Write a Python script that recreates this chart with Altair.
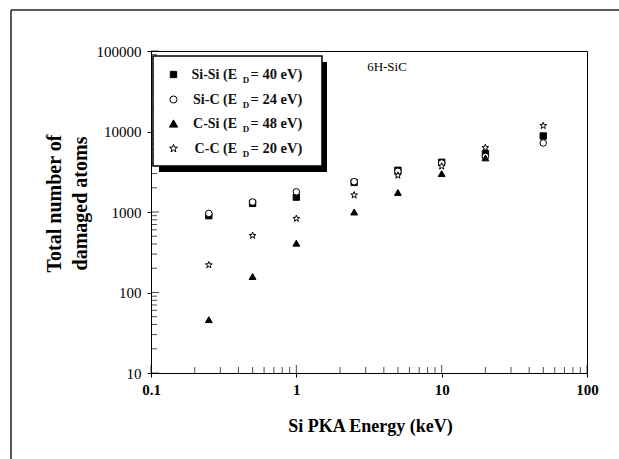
import altair as alt
import pandas as pd

# ---- data ----
energy = [0.25, 0.5, 1, 2.5, 5, 10, 20, 50]
si_si = [900, 1280, 1530, 2330, 3300, 4150, 5300, 8800]
si_c = [960, 1330, 1780, 2380, 3200, 4050, 4900, 7200]
c_si_energy = [0.25, 0.5, 1, 2.5, 5, 10, 20]
c_si = [46, 158, 410, 1000, 1750, 3000, 4700]
c_c = [220, 510, 830, 1620, 2850, 3700, 6300, 11800]

series = ["Si-Si", "Si-C", "C-Si", "C-C"]
ed_values = ["40", "24", "48", "20"]
STAR = ("M0,-1L0.235,-0.324L0.951,-0.309L0.380,0.124L0.588,0.809L0,0.4"
        "L-0.588,0.809L-0.380,0.124L-0.951,-0.309L-0.235,-0.324Z")
shapes = ["square", "circle", "triangle-up", STAR]
fills = ["black", "white", "black", "white"]
sizes = [40, 50, 70, 70]

x_ticks = [0.1, 1, 10, 100]
y_ticks = [10, 100, 1000, 10000, 100000]
x_minor = [m * d for d in [0.1, 1, 10] for m in range(2, 10)]
y_minor = [m * d for d in [10, 100, 1000, 10000] for m in range(2, 10)]

rows = []
for name, xs, ys in [("Si-Si", energy, si_si), ("Si-C", energy, si_c),
                     ("C-Si", c_si_energy, c_si), ("C-C", energy, c_c)]:
    for xv, yv in zip(xs, ys):
        rows.append({"energy": xv, "count": yv, "series": name})
df = pd.DataFrame(rows)

W, H = 436, 322
FONT = "Liberation Serif"

xscale = alt.Scale(type="log", domain=[0.1, 100])
yscale = alt.Scale(type="log", domain=[10, 100000])

points = alt.Chart(df).mark_point(filled=True, stroke="black", strokeWidth=1, opacity=1).encode(
    x=alt.X("energy:Q", scale=xscale,
            axis=alt.Axis(values=x_ticks, format="~g", title="Si PKA Energy (keV)",
                          labelFontWeight="bold", labelFontSize=15, labelFont=FONT,
                          labelPadding=5, tickSize=4, labelFlush=False,
                          titleFont=FONT, titleFontSize=18, titleFontWeight="bold",
                          titleX=219, titleY=53, titleBaseline="middle", titleAnchor="middle")),
    y=alt.Y("count:Q", scale=yscale,
            axis=alt.Axis(values=y_ticks, format="d", title=["Total number of", "damaged atoms"],
                          labelFontSize=15, labelFont=FONT, labelPadding=6, tickSize=4,
                          labelFlush=False,
                          titleFont=FONT, titleFontSize=20, titleFontWeight="bold",
                          titleX=-97, titleY=152, titleAngle=-90, titleBaseline="middle",
                          titleAlign="center", titleLineHeight=26)),
    shape=alt.Shape("series:N", scale=alt.Scale(domain=series, range=shapes), legend=None),
    fill=alt.Fill("series:N", scale=alt.Scale(domain=series, range=fills), legend=None),
    size=alt.Size("series:N", scale=alt.Scale(domain=series, range=sizes), legend=None),
    order=alt.Order("idx:Q"),
).transform_calculate(
    idx="indexof(['Si-Si','Si-C','C-Si','C-C'], datum.series)"
)

# inward ticks
xt_major = alt.Chart(pd.DataFrame({"t": x_ticks})).mark_tick(
    orient="vertical", color="black", thickness=1, size=8).encode(
    x=alt.X("t:Q", scale=xscale, axis=None), y=alt.value(H - 4))
xt_minor = alt.Chart(pd.DataFrame({"t": x_minor})).mark_tick(
    orient="vertical", color="black", thickness=1, size=6).encode(
    x=alt.X("t:Q", scale=xscale, axis=None), y=alt.value(H - 3))
yt_major = alt.Chart(pd.DataFrame({"t": y_ticks})).mark_tick(
    orient="horizontal", color="black", thickness=1, size=8).encode(
    y=alt.Y("t:Q", scale=yscale, axis=None), x=alt.value(4))
yt_minor = alt.Chart(pd.DataFrame({"t": y_minor})).mark_tick(
    orient="horizontal", color="black", thickness=1, size=6).encode(
    y=alt.Y("t:Q", scale=yscale, axis=None), x=alt.value(3))

one = pd.DataFrame({"a": [0]})

# outer frame
frame_top = alt.Chart(one).mark_rule(color="#222", strokeWidth=1.5).encode(
    x=alt.value(-140), x2=alt.value(600), y=alt.value(-41))
frame_left = alt.Chart(one).mark_rule(color="#222", strokeWidth=1.5).encode(
    x=alt.value(-140), y=alt.value(-41), y2=alt.value(500))

# legend box with shadow
shadow = alt.Chart(one).mark_rect(color="black").encode(
    x=alt.value(8), x2=alt.value(176), y=alt.value(11), y2=alt.value(121))
box = alt.Chart(one).mark_rect(fill="white", stroke="black", strokeWidth=1.5).encode(
    x=alt.value(2), x2=alt.value(171), y=alt.value(5), y2=alt.value(115))

legend_layers = []
row_y = [23.5, 48.5, 72.5, 97.5]
for i, (name, ed) in enumerate(zip(series, ed_values)):
    yy = row_y[i]
    legend_layers.append(
        alt.Chart(pd.DataFrame({"s": [name]})).mark_point(
            filled=True, stroke="black", strokeWidth=1, opacity=1,
            shape=shapes[i], fill=fills[i], size=sizes[i]).encode(
            x=alt.value(22.5), y=alt.value(yy)))
    legend_layers.append(
        alt.Chart(one).mark_text(text=f"{name} (E", font=FONT, fontWeight="bold", fontSize=14,
                                 align="right", baseline="middle", color="#111").encode(
            x=alt.value(86), y=alt.value(yy)))
    legend_layers.append(
        alt.Chart(one).mark_text(text="D", font=FONT, fontWeight="bold", fontSize=9,
                                 align="center", baseline="middle", color="#111").encode(
            x=alt.value(95), y=alt.value(yy + 5)))
    legend_layers.append(
        alt.Chart(one).mark_text(text=f"= {ed} eV)", font=FONT, fontWeight="bold", fontSize=14.5,
                                 align="left", baseline="middle", color="#111").encode(
            x=alt.value(99.5), y=alt.value(yy)))

label = alt.Chart(one).mark_text(text="6H-SiC", font=FONT, fontSize=13,
                                 align="center", baseline="middle", color="black").encode(
    x=alt.value(236), y=alt.value(16))

chart = alt.layer(
    frame_top, frame_left,
    points, xt_major, xt_minor, yt_major, yt_minor,
    shadow, box, *legend_layers, label
).resolve_axis(
    x="independent", y="independent"
).properties(
    width=W, height=H,
    autosize=alt.AutoSizeParams(type="none"),
    padding={"left": 151, "top": 51, "right": 32, "bottom": 86},
    background="white",
).configure_view(
    stroke="black", strokeWidth=1
).configure_axis(
    domainColor="black", tickColor="black", labelColor="black", titleColor="black",
    grid=False, domainWidth=1, tickWidth=1
)

chart.save("out.html", embed_options={"renderer": "svg", "actions": False})
